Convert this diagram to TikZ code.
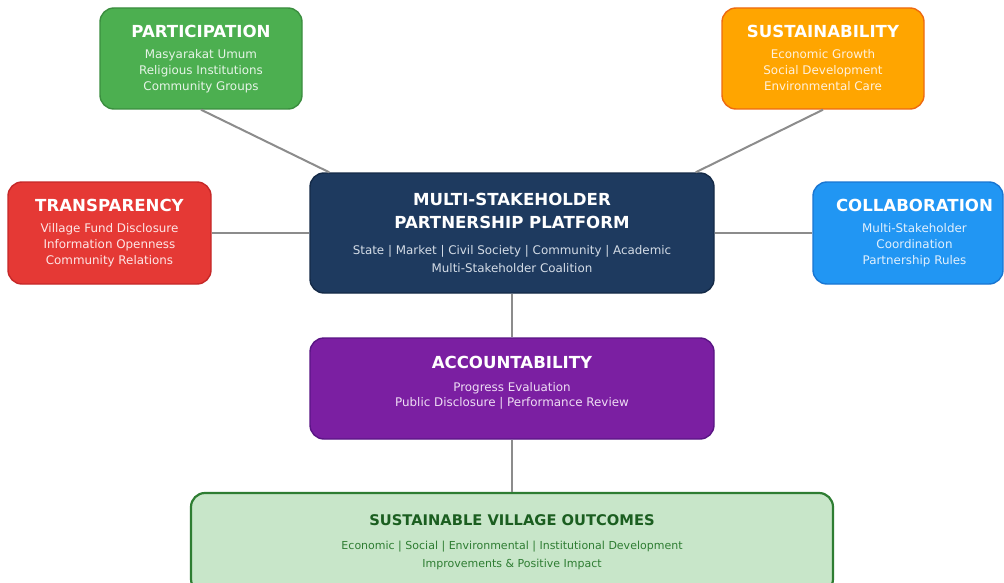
\documentclass[tikz,border=0pt]{standalone}
\usepackage{fontspec}
\setmainfont{DejaVu Sans}

\definecolor{linegray}{HTML}{8C8C8C}
\definecolor{partfill}{HTML}{4CAF50}
\definecolor{partedge}{HTML}{3B8E3F}
\definecolor{partsub}{HTML}{E6F4E7}
\definecolor{sustfill}{HTML}{FFA500}
\definecolor{sustedge}{HTML}{EE6A10}
\definecolor{sustsub}{HTML}{FFF1DC}
\definecolor{tranfill}{HTML}{E53935}
\definecolor{tranedge}{HTML}{C62828}
\definecolor{transub}{HTML}{FDE6E6}
\definecolor{collfill}{HTML}{2196F3}
\definecolor{colledge}{HTML}{1976D2}
\definecolor{collsub}{HTML}{E1F0FD}
\definecolor{centfill}{HTML}{1E3A5F}
\definecolor{centedge}{HTML}{142A47}
\definecolor{centsub}{HTML}{D4DCE6}
\definecolor{accfill}{HTML}{7B1FA2}
\definecolor{accedge}{HTML}{5A1585}
\definecolor{accsub}{HTML}{EEDDF4}
\definecolor{outfill}{HTML}{C8E6C9}
\definecolor{outedge}{HTML}{2E7D32}
\definecolor{outtitle}{HTML}{1B5E20}
\definecolor{outsub}{HTML}{2E7D32}

\tikzset{
  card/.style={rectangle, rounded corners=14pt, line width=1.4pt, inner sep=0pt},
  cardtext/.style={anchor=north, inner sep=0pt, align=center,
    font=\fontsize{11.9}{16}\selectfont},
  link/.style={draw=linegray, line width=2pt},
}
\newcommand{\cardtitle}[1]{{\fontsize{16.6}{16}\selectfont\bfseries #1}}

\begin{document}
\begin{tikzpicture}[x=1pt,y=-1pt]
\clip (0,0) rectangle (1004,583);
\fill[white] (0,0) rectangle (1004,583);

% outer pillars
\node[card, fill=partfill, draw=partedge, minimum width=202pt, minimum height=101pt] (part) at (201,58.5) {};
\node[card, fill=sustfill, draw=sustedge, minimum width=202pt, minimum height=101pt] (sust) at (823,58.5) {};
\node[card, fill=tranfill, draw=tranedge, minimum width=203pt, minimum height=102pt] (tran) at (109.5,233) {};
\node[card, fill=collfill, draw=colledge, minimum width=190pt, minimum height=102pt] (coll) at (908,233) {};

% platform, accountability and outcomes
\node[card, fill=centfill, draw=centedge, minimum width=404pt, minimum height=120pt] (cent) at (512,233) {};
\node[card, fill=accfill, draw=accedge, minimum width=404pt, minimum height=101pt] (acc) at (512,388.5) {};
\node[card, fill=outfill, draw=outedge, line width=2.2pt, minimum width=642pt, minimum height=100pt] (out) at (512,543) {};

% connectors
\draw[link] (part.south) -- ([xshift=20pt]cent.north west);
\draw[link] (sust.south) -- ([xshift=-19pt]cent.north east);
\draw[link] (tran.east) -- (cent.west);
\draw[link] (cent.east) -- (coll.west);
\draw[link] (cent.south) -- (acc.north);
\draw[link] (acc.south) -- (out.north);

% texts
\node[cardtext, text=partsub] (part-t) at (201,25) {\textcolor{white}{\cardtitle{PARTICIPATION}}\\[5.2pt]
  Masyarakat Umum\\Religious Institutions\\Community Groups};
\node[cardtext, text=sustsub] (sust-t) at (823,25) {\textcolor{white}{\cardtitle{SUSTAINABILITY}}\\[5.2pt]
  Economic Growth\\Social Development\\Environmental Care};
\node[cardtext, text=transub] (tran-t) at (109.5,199) {\textcolor{white}{\cardtitle{TRANSPARENCY}}\\[5.2pt]
  Village Fund Disclosure\\Information Openness\\Community Relations};
\node[cardtext, text=collsub] (coll-t) at (914.5,199) {\textcolor{white}{\cardtitle{COLLABORATION}}\\[5.2pt]
  Multi-Stakeholder\\Coordination\\Partnership Rules};
\node[cardtext, text=centsub, font=\fontsize{11.9}{18}\selectfont] (cent-t) at (512,192.8) {\textcolor{white}{\cardtitle{MULTI-STAKEHOLDER}}\\[5pt]
  \textcolor{white}{\cardtitle{PARTNERSHIP PLATFORM}}\\[8.1pt]
  State | Market | Civil Society | Community | Academic\\Multi-Stakeholder Coalition};
\node[cardtext, text=accsub, font=\fontsize{11.9}{15.4}\selectfont] (acc-t) at (512,355.8) {\textcolor{white}{\cardtitle{ACCOUNTABILITY}}\\[7.4pt]
  Progress Evaluation\\Public Disclosure | Performance Review};
\node[cardtext, text=outsub, font=\fontsize{11}{18}\selectfont] (out-t) at (512,514.7) {\textcolor{outtitle}{\fontsize{14.7}{16}\selectfont\bfseries SUSTAINABLE VILLAGE OUTCOMES}\\[5.4pt]
  Economic | Social | Environmental | Institutional Development\\Improvements \& Positive Impact};
\end{tikzpicture}
\end{document}
